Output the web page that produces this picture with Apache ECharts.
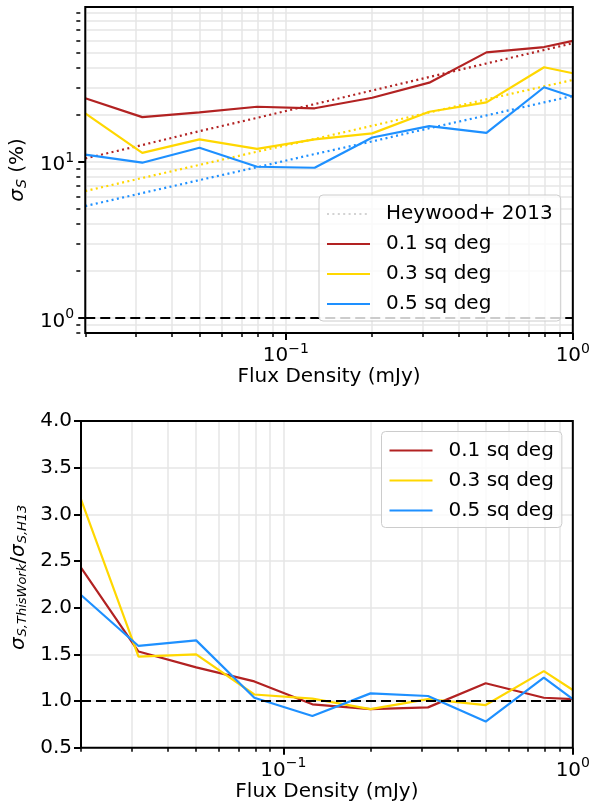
<!DOCTYPE html>
<html><head><meta charset="utf-8">
<script src="https://cdn.jsdelivr.net/npm/echarts@6/dist/echarts.min.js"></script>
<style>html,body{margin:0;padding:0;background:#fff}#c{width:593px;height:808px}</style>
</head><body><div id="c"></div>
<script>
// ---- data ----
const fluxDensity = [0.02, 0.0316, 0.05, 0.0794, 0.126, 0.2, 0.316, 0.5, 0.794, 1.0];
const sigma01 = [25.5, 19.3, 20.7, 22.5, 22.0, 25.7, 32.1, 50.2, 54.3, 59.4];
const sigma03 = [20.4, 11.4, 13.9, 12.1, 13.9, 15.2, 20.9, 24.0, 40.3, 36.9];
const sigma05 = [11.1, 9.86, 12.3, 9.29, 9.15, 14.3, 16.9, 15.3, 30.0, 26.1];
const heywood01 = [10.5, 12.8, 15.7, 19.1, 23.4, 28.6, 34.9, 42.6, 52.0, 57.4];
const heywood03 = [6.49, 7.87, 9.55, 11.6, 14.0, 17.0, 20.7, 25.1, 30.4, 33.4];
const heywood05 = [5.20, 6.30, 7.63, 9.23, 11.2, 13.5, 16.4, 19.8, 24.0, 26.4];
const ratio01 = [2.43, 1.53, 1.36, 1.21, 0.965, 0.914, 0.932, 1.19, 1.035, 1.02];
const ratio03 = [3.16, 1.475, 1.50, 1.07, 1.025, 0.914, 1.02, 0.957, 1.32, 1.118];
const ratio05 = [2.136, 1.59, 1.65, 1.035, 0.84, 1.082, 1.054, 0.78, 1.25, 1.02];
const seriesNames = ['0.1 sq deg', '0.3 sq deg', '0.5 sq deg'];
const heywoodName = 'Heywood+ 2013';
const xRange = [0.02, 1];
const yRangeTop = [0.8, 98];
const yRangeBottom = [0.5, 4.0];
const yStepBottom = 0.5;
const xMajorTicks = [0.1, 1];
const xMinorTicks = [0.02, 0.03, 0.04, 0.05, 0.06, 0.07, 0.08, 0.09, 0.2, 0.3, 0.4, 0.5, 0.6, 0.7, 0.8, 0.9];
const yTopMajorTicks = [1, 10];
const yTopMinorTicks = [0.8, 0.9, 2, 3, 4, 5, 6, 7, 8, 9, 20, 30, 40, 50, 60, 70, 80, 90];
const unityLevel = 1;

// ---- layout / styles ----
const colors = ['#b22222', '#ffd700', '#1e90ff'];
const FONT = 'DejaVu Sans';
const gridColor = '#e6e6e6';
const L = Math.log10;
const gridBoxes = [
  {left: 82.5, right: 18, top: 7, height: 326},
  {left: 81, right: 19, top: 421, height: 326.7}
];
const CHART_W = 593;
const gridWidth = g => CHART_W - g.left - g.right;

const supRich = {
  n: {fontSize: 20, fontFamily: FONT, color: '#000', padding: [7, 0, 0, 0]},
  s: {fontSize: 14, fontFamily: FONT, color: '#000', padding: [0, 0, 7, 0]}
};
function powLabel(v) {
  const e = Math.round(v);
  const es = e < 0 ? '\u2212' + (-e) : String(e);
  return '{n|10}{s|' + es + '}';
}
const noLine = {show: false, onZero: false};
const majorTick = {show: true, length: 7, lineStyle: {color: '#000', width: 2}};
const minorTick = {show: true, inside: true, length: 4, lineStyle: {color: '#000', width: 1.5}};
const split = {show: true, lineStyle: {color: gridColor, width: 1.5}};

function xAxesFor(gi) {
  const g = gridBoxes[gi];
  return [
    {
      type: 'value', gridIndex: gi, position: 'bottom', min: L(xRange[0]), max: L(xRange[1]),
      axisLine: noLine,
      axisTick: Object.assign({customValues: xMajorTicks.map(L)}, majorTick),
      axisLabel: {show: true, margin: 6, customValues: xMajorTicks.map(L), formatter: powLabel, rich: supRich},
      splitLine: split,
      name: 'Flux Density (mJy)', nameLocation: 'middle', nameGap: 33,
      nameTextStyle: {fontSize: 20, fontFamily: FONT, color: '#000'}
    },
    {
      // minor ticks: placed on the opposite side and shifted onto the bottom edge
      type: 'value', gridIndex: gi, position: 'top', offset: -g.height, min: L(xRange[0]), max: L(xRange[1]),
      axisLine: noLine,
      axisTick: Object.assign({customValues: xMinorTicks.map(L)}, minorTick),
      axisLabel: {show: false},
      splitLine: split
    }
  ];
}

const nameRich = {
  i: {fontSize: 20, fontFamily: FONT, fontStyle: 'italic', color: '#000'},
  b: {fontSize: 13, fontFamily: FONT, fontStyle: 'italic', color: '#000', padding: [8, 0, 0, 1]},
  t: {fontSize: 20, fontFamily: FONT, color: '#000'}
};
const nameRichTop = Object.assign({}, nameRich, {
  b: {fontSize: 14, fontFamily: FONT, fontStyle: 'italic', color: '#000', padding: [8, 0, 0, 1]}
});

const xAxis = [...xAxesFor(0), ...xAxesFor(1)];
const yAxis = [
  {
    type: 'value', gridIndex: 0, position: 'left', min: L(yRangeTop[0]), max: L(yRangeTop[1]),
    axisLine: noLine,
    axisTick: Object.assign({customValues: yTopMajorTicks.map(L)}, majorTick),
    axisLabel: {show: true, margin: 11, customValues: yTopMajorTicks.map(L), formatter: powLabel, rich: supRich},
    splitLine: split,
    name: '{i|\u03c3}{b|S}{t| (%)}', nameLocation: 'middle', nameGap: 52, nameRotate: 90,
    nameTextStyle: {rich: nameRichTop}
  },
  {
    type: 'value', gridIndex: 0, position: 'right', offset: -gridWidth(gridBoxes[0]),
    min: L(yRangeTop[0]), max: L(yRangeTop[1]),
    axisLine: noLine,
    axisTick: Object.assign({customValues: yTopMinorTicks.map(L)}, minorTick),
    axisLabel: {show: false},
    splitLine: split
  },
  {
    type: 'value', gridIndex: 1, position: 'left', min: yRangeBottom[0], max: yRangeBottom[1], interval: yStepBottom,
    axisLine: noLine,
    axisTick: majorTick,
    axisLabel: {show: true, margin: 9, fontSize: 20, fontFamily: FONT, color: '#000', formatter: v => v.toFixed(1)},
    splitLine: split,
    name: '{i|\u03c3}{b|S,ThisWork}{t|/}{i|\u03c3}{b|S,H13}', nameLocation: 'middle', nameGap: 52, nameRotate: 90,
    nameTextStyle: {rich: nameRich, padding: [0, 0, 0, 14]}
  }
];

const sigmaSets = [sigma01, sigma03, sigma05];
const heywoodSets = [heywood01, heywood03, heywood05];
const ratioSets = [ratio01, ratio03, ratio05];

const unityMark = {
  silent: true, symbol: 'none', label: {show: false},
  lineStyle: {color: '#000', type: [10, 5], width: 2}
};

const series = [];
heywoodSets.forEach((arr, k) => {
  series.push({
    name: 'h' + k, type: 'line', xAxisIndex: 0, yAxisIndex: 0,
    symbol: 'none', z: 2,
    lineStyle: {color: colors[k], width: 2.2, type: [2, 3.4], cap: 'butt'},
    data: fluxDensity.map((x, i) => [L(x), L(arr[i])])
  });
});
series.push({
  name: heywoodName, type: 'line', xAxisIndex: 0, yAxisIndex: 0, symbol: 'none',
  color: '#d3d3d3',
  lineStyle: {color: '#d3d3d3', width: 2, type: [2, 3.4]},
  data: []
});
sigmaSets.forEach((arr, k) => {
  const s = {
    name: seriesNames[k], type: 'line', xAxisIndex: 0, yAxisIndex: 0,
    symbol: 'none', z: 3, color: colors[k],
    lineStyle: {color: colors[k], width: 2.2},
    data: fluxDensity.map((x, i) => [L(x), L(arr[i])])
  };
  if (k === 0) s.markLine = Object.assign({}, unityMark, {data: [{yAxis: L(unityLevel)}]});
  series.push(s);
});
ratioSets.forEach((arr, k) => {
  const s = {
    name: seriesNames[k], type: 'line', xAxisIndex: 2, yAxisIndex: 2,
    symbol: 'none', z: 3, color: colors[k],
    lineStyle: {color: colors[k], width: 2.2},
    data: fluxDensity.map((x, i) => [L(x), arr[i]])
  };
  if (k === 0) s.markLine = Object.assign({}, unityMark, {data: [{yAxis: unityLevel}]});
  series.push(s);
});

const legendBase = {
  orient: 'vertical', itemWidth: 43, itemHeight: 14, itemGap: 10,
  backgroundColor: 'rgba(255,255,255,0.8)', borderColor: '#cccccc', borderWidth: 1, borderRadius: 4,
  textStyle: {fontSize: 20, fontFamily: FONT, color: '#000', padding: [0, 0, 0, 11]},
  itemStyle: {opacity: 0},
  selectedMode: false, z: 10
};

const option = {
  animation: false,
  backgroundColor: '#fff',
  textStyle: {fontFamily: FONT},
  grid: gridBoxes.map(g => Object.assign({
    show: true, borderColor: '#000', borderWidth: 2, backgroundColor: 'rgba(0,0,0,0)', z: 5
  }, g)),
  xAxis, yAxis, series,
  legend: [
    Object.assign({}, legendBase, {left: 319, top: 195, padding: [9, 8, 7, 7], data: [heywoodName, ...seriesNames]}),
    Object.assign({}, legendBase, {left: 381.5, top: 431.5, padding: [9, 8, 7, 7], data: seriesNames})
  ]
};

const chart = echarts.init(document.getElementById('c'), null, {renderer: 'canvas'});
chart.setOption(option);
</script>
</body></html>
